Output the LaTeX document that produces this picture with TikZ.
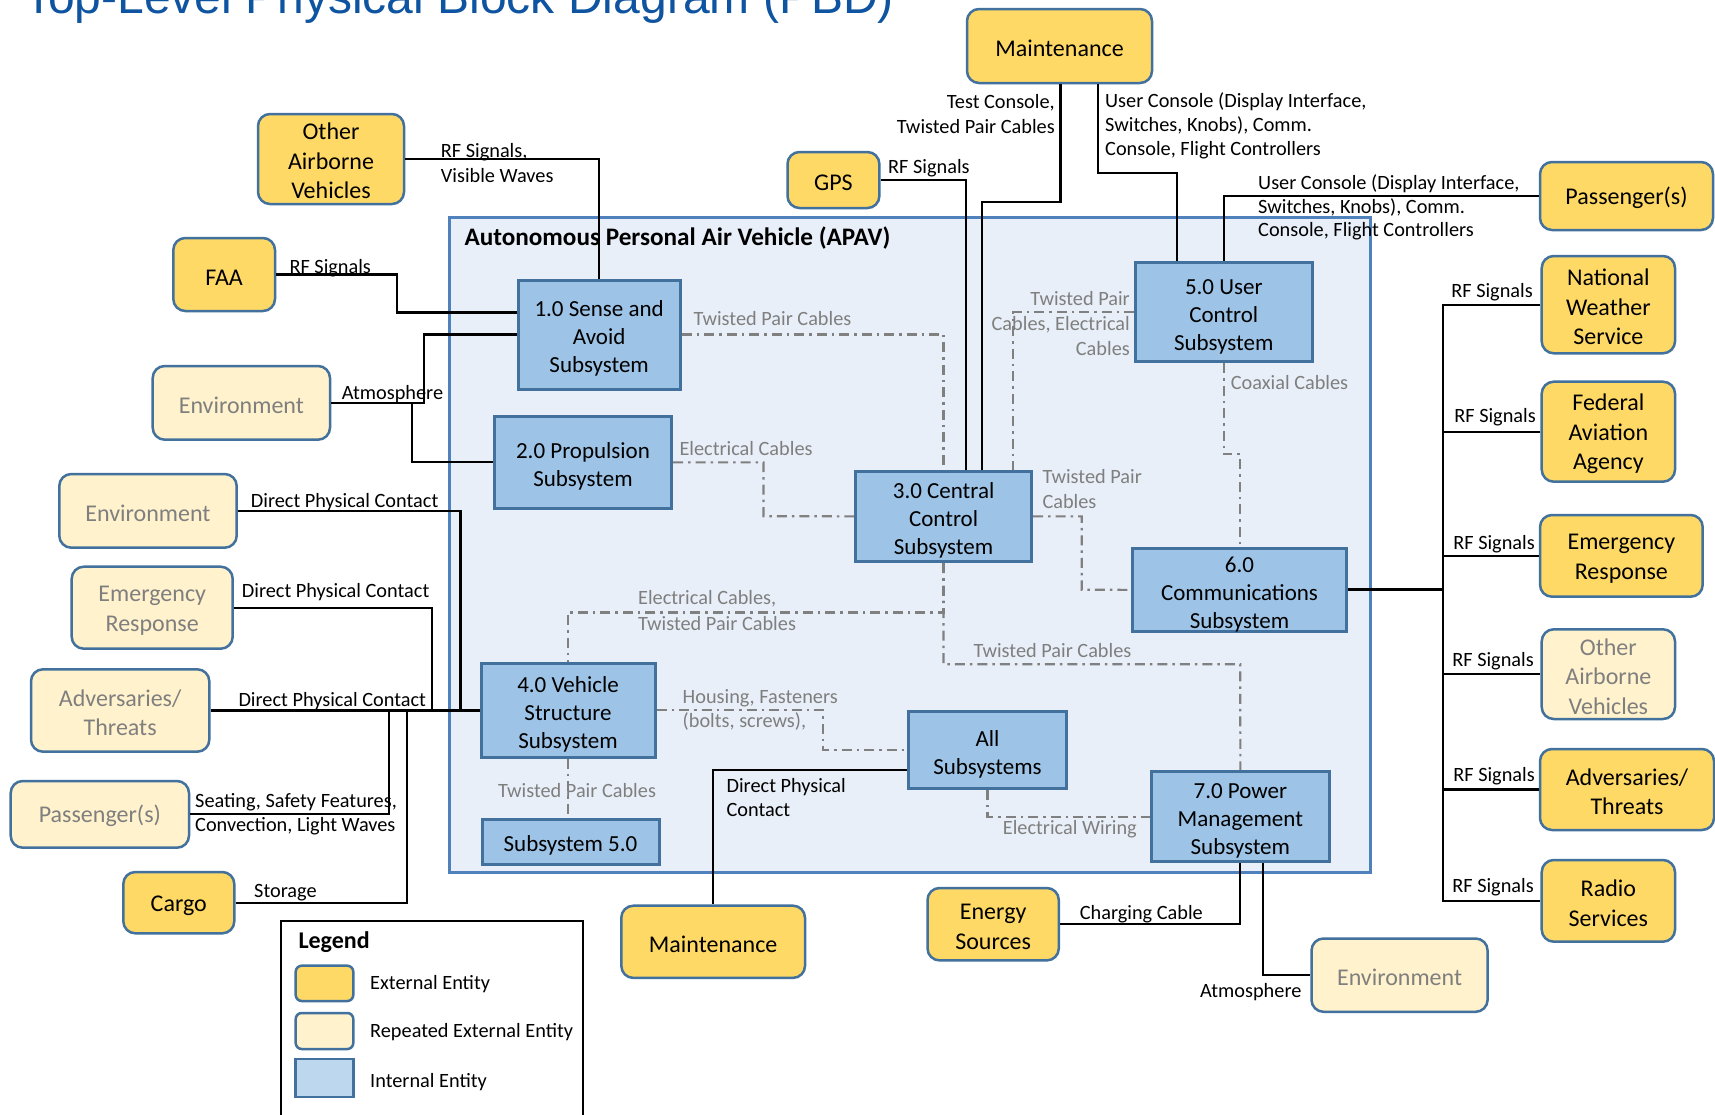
\documentclass[tikz,border=0pt]{standalone}
\usepackage{fontspec}
\setmainfont{Carlito}
\newfontfamily\headfont{Liberation Sans}

\definecolor{edgeblue}{RGB}{65,113,156}
\definecolor{apavedge}{RGB}{79,129,189}
\definecolor{extfill}{RGB}{255,217,102}
\definecolor{repfill}{RGB}{255,242,204}
\definecolor{intfill}{RGB}{157,195,230}
\definecolor{apavfill}{RGB}{232,239,248}
\definecolor{swatchint}{RGB}{189,215,238}
\definecolor{labgray}{RGB}{127,127,127}
\definecolor{cablegray}{RGB}{128,128,128}
\definecolor{titleblue}{RGB}{14,84,160}

% strut opening the first text line of a block (set by the block styles)
\newcommand\pfdstrut{}
% block placed by its corners: style, name, x1, y1, x2, y2, text
\newcommand\pfdbox[7]{%
  \pgfmathsetmacro\pfdw{#5-#3}\pgfmathsetmacro\pfdh{#6-#4}%
  \node[#1,minimum width=\pfdw pt,minimum height=\pfdh pt] (#2) at ({(#3+#5)/2},{(#4+#6)/2}) {\pfdstrut#7};}

\begin{document}
\begin{tikzpicture}[x=1pt,y=-1pt,
  ext/.style={draw=edgeblue,line width=2.5pt,rounded corners=12pt,fill=extfill,
    align=center,inner sep=0pt,font=\fontsize{24}{29.5}\selectfont,
    /utils/exec={\def\pfdstrut{\rule{0pt}{21pt}}}},
  rep/.style={ext,fill=repfill,text=labgray},
  int/.style={draw=edgeblue,line width=3pt,fill=intfill,align=center,inner sep=0pt,
    font=\fontsize{23}{28}\selectfont,/utils/exec={\def\pfdstrut{\rule{0pt}{24pt}}}},
  apav/.style={draw=apavedge,line width=2.5pt,fill=apavfill,inner sep=0pt},
  wire/.style={line width=2.2pt,black},
  cable/.style={line width=2.2pt,cablegray,dash pattern=on 10pt off 5pt on 2.5pt off 5pt},
  lab/.style={inner sep=0pt,anchor=base west,font=\fontsize{20.3}{25}\selectfont},
  labr/.style={lab,anchor=base east},
  glab/.style={lab,text=labgray},
  glabr/.style={labr,text=labgray},
  legendbox/.style={draw=black,line width=2.5pt,fill=white,inner sep=0pt},
  swext/.style={draw=edgeblue,line width=2.5pt,rounded corners=6pt,fill=extfill,inner sep=0pt},
  swrep/.style={swext,fill=repfill},
  swint/.style={draw=edgeblue,line width=2.5pt,fill=swatchint,inner sep=0pt}]

\clip (0,0) rectangle (1715,1114);
\fill[white] (0,0) rectangle (1715,1114);

% heading
\node[anchor=base west,inner sep=0pt,text=titleblue,font=\headfont\fontsize{48}{50}\selectfont]
  (heading) at (24,13.8) {Top-Level Physical Block Diagram (PBD)};

% vehicle boundary
\pfdbox{apav}{apav}{449.6}{217.5}{1370.7}{872.5}{}
\node[anchor=base west,inner sep=0pt,font=\bfseries\fontsize{25.2}{28}\selectfont]
  (apavtitle) at (464.3,245) {Autonomous Personal Air Vehicle (APAV)};

% internal subsystems
\pfdbox{int}{s1}{518.3}{280}{680}{389}{1.0 Sense and\\Avoid\\Subsystem}
\pfdbox{int}{s2}{494.3}{416.7}{671.7}{508}{2.0 Propulsion\\Subsystem}
\pfdbox{int}{s3}{855.4}{471}{1031.7}{561.7}{3.0 Central\\Control\\Subsystem}
\pfdbox{int}{s4}{481}{663}{655}{757}{4.0 Vehicle\\Structure\\Subsystem}
\pfdbox{int}{s5sub}{482}{819}{659}{864.3}{Subsystem 5.0}
\pfdbox{int}{s5}{1135.5}{262.3}{1312}{361.5}{5.0 User\\Control\\Subsystem}
\pfdbox{int}{s6}{1132.3}{549}{1346.7}{630.7}{6.0\\Communications\\Subsystem}
\pfdbox{int}{sall}{908.3}{711.7}{1066.7}{788.3}{All\\Subsystems}
\pfdbox{int}{s7}{1151.7}{771.7}{1329}{861.7}{7.0 Power\\Management\\Subsystem}

% external entities
\pfdbox{ext}{mtop}{967}{9}{1152}{83}{Maintenance}
\pfdbox{ext}{oavT}{258}{114}{404}{204}{Other\\Airborne\\Vehicles}
\pfdbox{ext}{gps}{787.5}{152}{879.4}{208}{GPS}
\pfdbox{ext}{faa}{173.3}{238}{275}{311}{FAA}
\pfdbox{ext}{paxR}{1540}{162}{1713}{230}{Passenger(s)}
\pfdbox{ext}{nws}{1541.7}{256}{1675}{353.3}{National\\Weather\\Service}
\pfdbox{ext}{fedaa}{1541.7}{381.7}{1675}{481.7}{Federal\\Aviation\\Agency}
\pfdbox{ext}{erR}{1540}{515}{1702.7}{596.7}{Emergency\\Response}
\pfdbox{ext}{advR}{1540}{749}{1714}{830}{Adversaries/\\Threats}
\pfdbox{ext}{radio}{1541.7}{860}{1675}{941.7}{Radio\\Services}
\pfdbox{ext}{cargo}{123.3}{872}{234.3}{933.3}{Cargo}
\pfdbox{ext}{mbot}{621.3}{905.7}{805}{977.9}{Maintenance}
\pfdbox{ext}{energy}{927.5}{888}{1058.8}{960.4}{Energy\\Sources}

% repeated external entities
\pfdbox{rep}{env1}{152.7}{366}{330}{439.7}{Environment}
\pfdbox{rep}{env2}{59.3}{474}{236.7}{547.7}{Environment}
\pfdbox{rep}{erL}{71.7}{566.7}{232.7}{648.7}{Emergency\\Response}
\pfdbox{rep}{advL}{31}{669.3}{209.3}{751.7}{Adversaries/\\Threats}
\pfdbox{rep}{paxL}{10.7}{781}{189}{847.7}{Passenger(s)}
\pfdbox{rep}{oavR}{1541.7}{629.3}{1675}{719}{Other\\Airborne\\Vehicles}
\pfdbox{rep}{envB}{1311.5}{938.5}{1487.6}{1011.8}{Environment}

% external interfaces
\draw[wire] (oavT.east) -| (s1.north);
\draw[wire] (faa.east) -| (396.7,312.5) -- (s1.west |- 0,312.5);
\draw[wire] (env1.east) -| (424.3,334.5) -- (s1.west);
\draw[wire] (env1.east -| 412.3,0) |- (s2.west);
\draw[wire] (env2.east) -| (460.5,710) -- (s4.west);
\draw[wire] (erL.east) -| (432.3,710) -- (s4.west);
\draw[wire] (advL.east) -- (advL.east -| s4.west);
\draw[wire] (paxL.east) -| (389.3,710.5);
\draw[wire] (cargo.east) -| (406.7,710.5);
\draw[wire] (mbot.north) |- (sall.west |- 0,770);
\draw[wire] (energy.east) -| (s7.south);
\draw[wire] (s7.south -| 1263.3,0) |- (envB.west);
\draw[wire] (gps.east) -| (s3.north -| 965.7,0);
\draw[wire] (mtop.south -| 1060.5,0) |- (981.7,201.7) -- (s3.north -| 981.7,0);
\draw[wire] (mtop.south -| 1097.6,0) |- (1176.9,173.3) -- (s5.north -| 1176.9,0);
\draw[wire] (s5.north) |- (paxR.west);
\draw[wire,line width=3pt] (s6.east) -- (s6.east -| 1443,0);
\draw[wire] (nws.west) -| (radio.west -| 1443,0) -- (radio.west);
\foreach \n in {fedaa,erR,oavR,advR} \draw[wire] (\n.west) -- (\n.west -| 1443,0);

% internal cabling
\draw[cable] (s1.east) -| (s3.north);
\draw[cable] (s2.east) -| (763.5,516.3) -- (s3.west);
\draw[cable] (s5.west) -| (s3.north -| 1013.3,0);
\draw[cable] (s5.south) |- (1240,454.3) -- (s6.north -| 1240,0);
\draw[cable] (s3.east) -| (1081.7,589.8) -- (s6.west);
\draw[cable] (s3.south) |- (s4.north |- 0,612.5) -- (s4.north);
\draw[cable] (s3.south) |- (1240.3,664.3) -- (s7.north);
\draw[cable] (s4.east) -| (822.9,750) -- (sall.west);
\draw[cable] (s4.south) -- (s4.south |- s5sub.north);
\draw[cable] (sall.south) |- (s7.west);

% cabling labels
\node[glab] (c1) at (693.3,325.5) {Twisted Pair Cables};
\node[glab] (c2) at (679.3,455.5) {Electrical Cables};
\node[glabr] (c3a) at (1130,305.5) {Twisted Pair};
\node[glabr] (c3b) at (1130,330.5) {Cables, Electrical};
\node[glabr] (c3c) at (1130,355.5) {Cables};
\node[glab] (c4) at (1230.6,389) {Coaxial Cables};
\node[glab] (c5a) at (1042.3,483.5) {Twisted Pair};
\node[glab] (c5b) at (1042.3,508.5) {Cables};
\node[glab] (c6a) at (637.9,604.5) {Electrical Cables,};
\node[glab] (c6b) at (637.9,630) {Twisted Pair Cables};
\node[glab] (c7) at (973.3,657) {Twisted Pair Cables};
\node[glab] (c8a) at (682.5,703) {Housing, Fasteners};
\node[glab] (c8b) at (682.5,727.5) {(bolts, screws),};
\node[glab] (c9) at (497.9,797.5) {Twisted Pair Cables};
\node[glab] (c10) at (1002.7,834) {Electrical Wiring};

% interface labels
\node[lab] (e1a) at (440.7,157.5) {RF Signals,};
\node[lab] (e1b) at (440.7,182.5) {Visible Waves};
\node[lab] (e2) at (289.3,273.5) {RF Signals};
\node[lab] (e3) at (341.7,399) {Atmosphere};
\node[lab] (e4) at (250.7,507) {Direct Physical Contact};
\node[lab] (e5) at (241.7,597.5) {Direct Physical Contact};
\node[lab] (e6) at (238.3,706) {Direct Physical Contact};
\node[lab] (e7a) at (195,807.5) {Seating, Safety Features,};
\node[lab] (e7b) at (195,831) {Convection, Light Waves};
\node[lab] (e8) at (254,897.5) {Storage};
\node[lab] (e9a) at (726.4,792.5) {Direct Physical};
\node[lab] (e9b) at (726.4,816.5) {Contact};
\node[lab] (e10) at (1079.6,919.5) {Charging Cable};
\node[labr] (e11) at (1301.6,997.5) {Atmosphere};
\node[lab] (e12) at (888,173.5) {RF Signals};
\node[labr] (e13a) at (1055,108) {Test Console,};
\node[labr] (e13b) at (1055,133) {Twisted Pair Cables};
\node[lab] (e14a) at (1105,107) {User Console (Display Interface,};
\node[lab] (e14b) at (1105,131.5) {Switches, Knobs), Comm.};
\node[lab] (e14c) at (1105,155) {Console, Flight Controllers};
\node[lab] (e15a) at (1258,189) {User Console (Display Interface,};
\node[lab] (e15b) at (1258,213) {Switches, Knobs), Comm.};
\node[lab] (e15c) at (1258,236.5) {Console, Flight Controllers};
\node[labr] (r1) at (1533,297.5) {RF Signals};
\node[labr] (r2) at (1536,422.5) {RF Signals};
\node[labr] (r3) at (1535,549) {RF Signals};
\node[labr] (r4) at (1534,666) {RF Signals};
\node[labr] (r5) at (1535,781) {RF Signals};
\node[labr] (r6) at (1534,892.5) {RF Signals};

% legend
\pfdbox{legendbox}{legend}{281}{921}{583}{1135}{}
\node[anchor=base west,inner sep=0pt,font=\bfseries\fontsize{24}{28}\selectfont]
  (legendtitle) at (298.3,948.5) {Legend};
\pfdbox{swext}{k1}{295.7}{965.7}{353.3}{1001}{}
\pfdbox{swrep}{k2}{295.7}{1013}{353.3}{1049}{}
\pfdbox{swint}{k3}{295.7}{1059}{353.3}{1097}{}
\node[lab] (k1t) at (370,989.5) {External Entity};
\node[lab] (k2t) at (370,1037.5) {Repeated External Entity};
\node[lab] (k3t) at (370,1087.5) {Internal Entity};
\end{tikzpicture}
\end{document}
